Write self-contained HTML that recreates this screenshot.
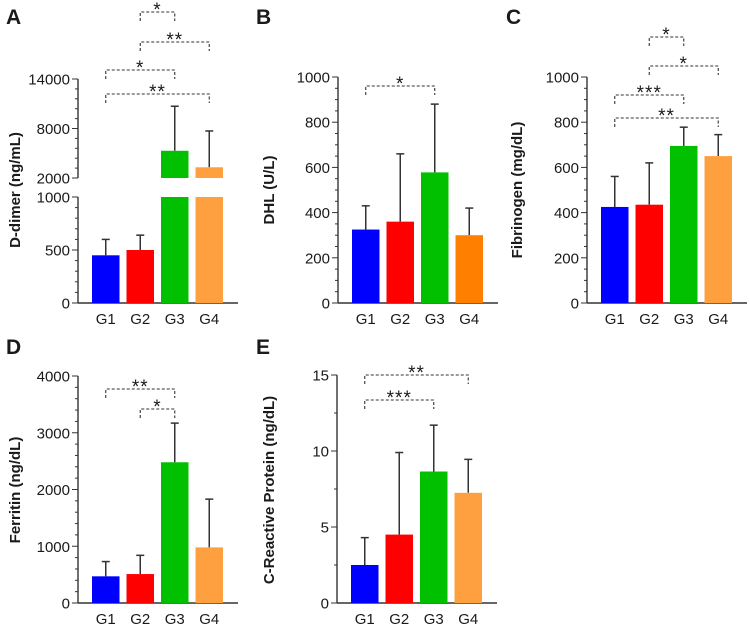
<!DOCTYPE html>
<html><head><meta charset="utf-8"><style>
body{margin:0;background:#fff}
svg text{font-family:"Liberation Sans","DejaVu Sans",sans-serif;fill:#1a1a1a}
</style></head><body>
<svg id="fig" width="750" height="627" viewBox="0 0 750 627" xmlns="http://www.w3.org/2000/svg"></svg>
<script>
const groups=["G1","G2","G3","G4"];
const dimerMean=[450,500,5300,3300];
const dimerErr=[600,640,10700,7700];
const dhlMean=[325,360,578,300];
const dhlErr=[430,660,880,420];
const fibMean=[425,435,695,650];
const fibErr=[560,620,778,745];
const ferMean=[470,510,2480,980];
const ferErr=[730,840,3170,1830];
const crpMean=[2.5,4.5,8.65,7.25];
const crpErr=[4.3,9.9,11.7,9.45];
const fibTicks=["0","200","400","600","800","1000"];
const ferTicks=["0","1000","2000","3000","4000"];
const crpTicks=["0","5","10","15"];
const colors=["#0000ff","#ff0000","#00c000","#ffa040"];
const colorsB=["#0000ff","#ff0000","#00c000","#ff8000"];

const NS="http://www.w3.org/2000/svg";
const svg=document.getElementById('fig');
function mk(tag,attrs,parent,txt){const e=document.createElementNS(NS,tag);for(const k in attrs)e.setAttribute(k,attrs[k]);if(txt!==undefined)e.textContent=txt;(parent||svg).appendChild(e);return e;}

function panel(cfg){
  const g=mk('g',{});
  
  
  const ax=cfg.ax;
  const bx=i=>ax+14+i*34.5;
  const bw=27.5;
  const lt=mk('text',{x:cfg.lx,y:cfg.ly,'font-size':21,'font-weight':'bold'},g,cfg.letter);
  
  if(cfg.broken){
    const y=cfg.y;
    let l=mk('line',{x1:ax,x2:ax,y1:y(0),y2:y(1000),stroke:'#333','stroke-width':1.4},g);
    
    l=mk('line',{x1:ax,x2:ax,y1:y(2000),y2:y(14000),stroke:'#333','stroke-width':1.4},g);
    
    for(let v=0;v<=1000;v+=100){const maj=v%500===0;mk('line',{x1:ax-(maj?6:3),x2:ax,y1:y(v),y2:y(v),stroke:'#333','stroke-width':1},g);}
    for(let v=2000;v<=14000;v+=1200){const maj=(v===2000||v===8000||v===14000);mk('line',{x1:ax-(maj?6:3),x2:ax,y1:y(v),y2:y(v),stroke:'#333','stroke-width':1},g);}
    const tl=["0","500","1000","2000","8000","14000"];
    const tv=[0,500,1000,2000,8000,14000];
    tv.forEach((v,i)=>{const t=mk('text',{x:ax-8,y:y(v)+5.5,'font-size':15,'text-anchor':'end'},g,tl[i]);});
  } else {
    const y=cfg.y;
    let l=mk('line',{x1:ax,x2:ax,y1:y(0),y2:y(cfg.max),stroke:'#333','stroke-width':1.4},g);
    
    for(let v=0;v<=cfg.max+1e-9;v+=cfg.minor){const maj=Math.abs(v/cfg.major-Math.round(v/cfg.major))<1e-6;mk('line',{x1:ax-(maj?6:3),x2:ax,y1:y(v),y2:y(v),stroke:'#333','stroke-width':1},g);}
    cfg.ticks.forEach(s=>{const t=mk('text',{x:ax-8,y:y(+s)+5.5,'font-size':15,'text-anchor':'end'},g,s);});
  }
  const y=cfg.y, y0=y(0);
  let xl=mk('line',{x1:ax,x2:ax+160,y1:y0,y2:y0,stroke:'#333','stroke-width':1.4},g);
  
  groups.forEach((gn,i)=>{
    const cx=bx(i)+bw/2;
    const t=mk('text',{x:cx,y:y0+21,'font-size':15,'text-anchor':'middle'},g,gn);
    
    const ey=y(cfg.err[i]), my=y(cfg.mean[i]);
    mk('line',{x1:cx,x2:cx,y1:my,y2:ey,stroke:'#333','stroke-width':1.5},g);
    mk('line',{x1:cx-4,x2:cx+4,y1:ey,y2:ey,stroke:'#333','stroke-width':1.5},g);
    if(cfg.broken && cfg.mean[i]>1000){
      let r=mk('rect',{x:bx(i),y:y(1000),width:bw,height:y0-y(1000),fill:cfg.colors[i]},g);
      
      r=mk('rect',{x:bx(i),y:my,width:bw,height:y(2000)-my,fill:cfg.colors[i]},g);
      
    } else {
      const r=mk('rect',{x:bx(i),y:my,width:bw,height:y0-my,fill:cfg.colors[i]},g);
      
    }
  });
  const yl=mk('text',{x:0,y:0,'font-size':15,'font-weight':'bold','text-anchor':'middle',transform:`translate(${cfg.ylx},${cfg.yly}) rotate(-90)`},g,cfg.ylabel);
  
  cfg.brackets.forEach(b=>{
    const x1=bx(b[0])+bw/2,x2=bx(b[1])+bw/2,by=b[2];
    const p=mk('path',{d:`M${x1},${by+9}V${by}H${x2}V${by+9}`,fill:'none',stroke:'#333','stroke-width':1.1,'stroke-dasharray':'3,2'},g);
    
    const s=mk('text',{x:(x1+x2)/2,y:by+4,'font-size':19,'text-anchor':'middle','letter-spacing':'1'},g,b[3]);
    
  });
}
const lin=(y0,yTop,max)=>v=>y0-(y0-yTop)*v/max;
panel({name:'panel-a-d-dimer',letter:'A',lx:6,ly:24,ax:78,broken:true,
  y:v=>v<=1000?303-106*v/1000:178-99*(v-2000)/12000,
  mean:dimerMean,err:dimerErr,colors:colors,ylabel:'D-dimer (ng/mL)',ylx:20,yly:190,
  brackets:[[1,2,12,'*'],[1,3,42,'**'],[0,2,70,'*'],[0,3,94,'**']]});
panel({name:'panel-b-dhl',letter:'B',lx:256,ly:24,ax:338,y:lin(303,77,1000),max:1000,minor:50,major:200,
  ticks:fibTicks,mean:dhlMean,err:dhlErr,colors:colorsB,ylabel:'DHL (U/L)',ylx:274,yly:190,
  brackets:[[0,2,86,'*']]});
panel({name:'panel-c-fibrinogen',letter:'C',lx:506,ly:24,ax:587,y:lin(303,77,1000),max:1000,minor:50,major:200,
  ticks:fibTicks,mean:fibMean,err:fibErr,colors:colors,ylabel:'Fibrinogen (mg/dL)',ylx:522,yly:190,
  brackets:[[1,2,37,'*'],[1,3,66,'*'],[0,2,95,'***'],[0,3,118,'**']]});
panel({name:'panel-d-ferritin',letter:'D',lx:6,ly:354,ax:78,y:lin(603,376,4000),max:4000,minor:200,major:1000,
  ticks:ferTicks,mean:ferMean,err:ferErr,colors:colors,ylabel:'Ferritin (ng/dL)',ylx:20,yly:490,
  brackets:[[0,2,389,'**'],[1,2,409,'*']]});
panel({name:'panel-e-crp',letter:'E',lx:256,ly:354,ax:337,y:lin(603,375,15),max:15,minor:2.5,major:5,
  ticks:crpTicks,mean:crpMean,err:crpErr,colors:colors,ylabel:'C-Reactive Protein (ng/dL)',ylx:274,yly:490,
  brackets:[[0,3,375,'**'],[0,2,400,'***']]});
</script>
</body></html>
